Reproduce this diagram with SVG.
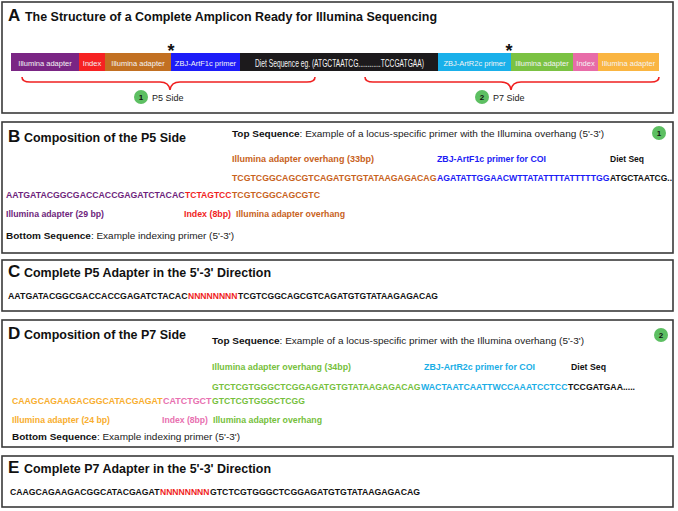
<svg xmlns="http://www.w3.org/2000/svg" width="678" height="511" viewBox="0 0 678 511">
<style>
.box{fill:#fff;stroke:#3a3a3a;stroke-width:1.6}
.t{font-family:"Liberation Sans",Arial,sans-serif}
.big{font-family:"Liberation Sans",Arial,sans-serif;font-weight:bold;font-size:17px;fill:#111}
.ttl{font-family:"Liberation Sans",Arial,sans-serif;font-weight:bold;font-size:12.5px;fill:#111}
.seg{font-family:"Liberation Sans",Arial,sans-serif;font-size:7.5px;fill:#f4f4f4;text-anchor:middle}
.sq{font-family:"Liberation Sans",Arial,sans-serif;font-weight:bold;font-size:9px}
.lb{font-family:"Liberation Sans",Arial,sans-serif;font-weight:bold;font-size:8.5px}
.nt{font-family:"Liberation Sans",Arial,sans-serif;font-size:9px;fill:#222}
.brace{fill:none;stroke:#f02020;stroke-width:1.6}
.cir{fill:#5dbf62}
.cn{font-family:"Liberation Sans",Arial,sans-serif;font-weight:bold;font-size:8px;fill:#111;text-anchor:middle}
.pu{fill:#6e1f7c}.rd{fill:#f01e1e}.or{fill:#c8621c}.bl{fill:#1c1cf5}.bk{fill:#111}
.cy{fill:#1aaee6}.gr{fill:#76bf3c}.pk{fill:#e870b0}.yo{fill:#f8ae2e}
</style>

<g id="panelA">
<rect class="box" x="2" y="2" width="671" height="111"/>
<text class="big" x="8" y="21">A</text>
<text class="ttl" x="25" y="21" textLength="412" lengthAdjust="spacingAndGlyphs">The Structure of a Complete Amplicon Ready for Illumina Sequencing</text>
</g>

<g id="amplicon-bar">
<rect x="11" y="53" width="68" height="18" fill="#7a2584"/>
<rect x="79" y="53" width="26" height="18" fill="#f62222"/>
<rect x="105" y="53" width="66" height="18" fill="#c27022"/>
<rect x="171" y="53" width="69" height="18" fill="#1d1cf8"/>
<rect x="240" y="53" width="198" height="18" fill="#1c1a1c"/>
<rect x="438" y="53" width="73" height="18" fill="#1ab0ea"/>
<rect x="511" y="53" width="62" height="18" fill="#7bc243"/>
<rect x="573" y="53" width="25" height="18" fill="#e86ca8"/>
<rect x="598" y="53" width="61" height="18" fill="#fab541"/>
<text class="seg" x="45" y="66">Illumina adapter</text>
<text class="seg" x="92" y="66">Index</text>
<text class="seg" x="138" y="66">Illumina adapter</text>
<text class="seg" x="205.5" y="66">ZBJ-ArtF1c primer</text>
<text class="t" x="255" y="66.5" font-size="10.5" fill="#f4f4f4" textLength="169" lengthAdjust="spacingAndGlyphs">Diet Sequence eg. (ATGCTAATCG............TCCGATGAA)</text>
<text class="seg" x="474.5" y="66">ZBJ-ArtR2c primer</text>
<text class="seg" x="542" y="66">Illumina adapter</text>
<text class="seg" x="585.5" y="66">Index</text>
<text class="seg" x="628.5" y="66">Illumina adapter</text>
<text class="t" x="171" y="57" font-size="18" font-weight="bold" fill="#111" text-anchor="middle">*</text>
<text class="t" x="509" y="57" font-size="18" font-weight="bold" fill="#111" text-anchor="middle">*</text>
</g>

<g id="connectors">
<path class="brace" d="M22,77 Q22,82 30,82 L160,82 Q169,82 170,90 Q171,82 180,82 L307,82 Q315,82 315,77"/>
<path class="brace" d="M365,77 Q365,82 373,82 L501,82 Q510,82 511,90 Q512,82 521,82 L651,82 Q659,82 659,77"/>
</g>

<g id="p5-side-label">
<circle class="cir" cx="141" cy="97" r="7"/>
<text class="cn" x="141" y="100">1</text>
<text class="nt" x="152" y="100.5">P5 Side</text>
</g>
<g id="p7-side-label">
<circle class="cir" cx="482" cy="97" r="7"/>
<text class="cn" x="482" y="100">2</text>
<text class="nt" x="493" y="100.5">P7 Side</text>
</g>

<g id="panelB">
<rect class="box" x="2" y="122" width="671" height="131"/>
<text class="big" x="8" y="142">B</text>
<text class="ttl" x="24" y="142" textLength="162" lengthAdjust="spacingAndGlyphs">Composition of the P5 Side</text>
<text class="nt" x="232" y="137" textLength="372" lengthAdjust="spacingAndGlyphs"><tspan font-weight="bold" fill="#111">Top Sequence</tspan>: Example of a locus-specific primer with the Illumina overhang (5'-3')</text>
<circle class="cir" cx="659" cy="133" r="7"/>
<text class="cn" x="659" y="136">1</text>
<text class="lb or" x="232" y="162" textLength="142" lengthAdjust="spacingAndGlyphs">Illumina adapter overhang  (33bp)</text>
<text class="lb bl" x="437" y="162" textLength="109" lengthAdjust="spacingAndGlyphs">ZBJ-ArtF1c primer for COI</text>
<text class="lb bk" x="610" y="162" textLength="34" lengthAdjust="spacingAndGlyphs">Diet Seq</text>
<text class="sq or" x="232" y="181" textLength="204.5" lengthAdjust="spacingAndGlyphs">TCGTCGGCAGCGTCAGATGTGTATAAGAGACAG</text>
<text class="sq bl" x="437" y="181" textLength="172.5" lengthAdjust="spacingAndGlyphs">AGATATTGGAACWTTATATTTTATTTTTGG</text>
<text class="sq bk" x="610" y="181" textLength="62" lengthAdjust="spacingAndGlyphs">ATGCTAATCG..</text>
<text class="sq pu" x="6" y="198" textLength="178.5" lengthAdjust="spacingAndGlyphs">AATGATACGGCGACCACCGAGATCTACAC</text>
<text class="sq rd" x="185" y="198" textLength="46.5" lengthAdjust="spacingAndGlyphs">TCTAGTCC</text>
<text class="sq or" x="232" y="198" textLength="88" lengthAdjust="spacingAndGlyphs">TCGTCGGCAGCGTC</text>
<text class="lb pu" x="6" y="217" textLength="98" lengthAdjust="spacingAndGlyphs">Illumina adapter (29 bp)</text>
<text class="lb rd" x="184" y="217" textLength="47" lengthAdjust="spacingAndGlyphs">Index (8bp)</text>
<text class="lb or" x="236" y="217" textLength="109" lengthAdjust="spacingAndGlyphs">Illumina adapter overhang</text>
<text class="nt" x="6" y="239" textLength="228" lengthAdjust="spacingAndGlyphs"><tspan font-weight="bold" fill="#111">Bottom Sequence</tspan>: Example indexing primer (5'-3')</text>
</g>

<g id="panelC">
<rect class="box" x="2" y="260" width="671" height="51"/>
<text class="big" x="8" y="277">C</text>
<text class="ttl" x="24" y="277" textLength="247" lengthAdjust="spacingAndGlyphs">Complete P5 Adapter in the 5'-3' Direction</text>
<text class="sq bk" x="8" y="299" textLength="179.5" lengthAdjust="spacingAndGlyphs">AATGATACGGCGACCACCGAGATCTACAC</text>
<text class="sq rd" x="188" y="299" textLength="49.5" lengthAdjust="spacingAndGlyphs">NNNNNNNN</text>
<text class="sq bk" x="238" y="299" textLength="200" lengthAdjust="spacingAndGlyphs">TCGTCGGCAGCGTCAGATGTGTATAAGAGACAG</text>
</g>

<g id="panelD">
<rect class="box" x="2" y="320" width="671" height="127"/>
<text class="big" x="8" y="339">D</text>
<text class="ttl" x="24" y="339" textLength="162" lengthAdjust="spacingAndGlyphs">Composition of the P7 Side</text>
<text class="nt" x="212" y="344" textLength="372" lengthAdjust="spacingAndGlyphs"><tspan font-weight="bold" fill="#111">Top Sequence</tspan>: Example of a locus-specific primer with the Illumina overhang (5'-3')</text>
<circle class="cir" cx="661" cy="335" r="7"/>
<text class="cn" x="661" y="338">2</text>
<text class="lb gr" x="212" y="370" textLength="139" lengthAdjust="spacingAndGlyphs">Illumina adapter overhang  (34bp)</text>
<text class="lb cy" x="424" y="370" textLength="111" lengthAdjust="spacingAndGlyphs">ZBJ-ArtR2c primer for COI</text>
<text class="lb bk" x="571" y="370" textLength="35" lengthAdjust="spacingAndGlyphs">Diet Seq</text>
<text class="sq gr" x="212" y="390" textLength="208.5" lengthAdjust="spacingAndGlyphs">GTCTCGTGGGCTCGGAGATGTGTATAAGAGACAG</text>
<text class="sq cy" x="421" y="390" textLength="146.5" lengthAdjust="spacingAndGlyphs">WACTAATCAATTWCCAAATCCTCC</text>
<text class="sq bk" x="568" y="390" textLength="67" lengthAdjust="spacingAndGlyphs">TCCGATGAA.....</text>
<text class="sq yo" x="12" y="404" textLength="150.5" lengthAdjust="spacingAndGlyphs">CAAGCAGAAGACGGCATACGAGAT</text>
<text class="sq pk" x="163" y="404" textLength="48.5" lengthAdjust="spacingAndGlyphs">CATCTGCT</text>
<text class="sq gr" x="212" y="404" textLength="93" lengthAdjust="spacingAndGlyphs">GTCTCGTGGGCTCGG</text>
<text class="lb yo" x="12" y="423" textLength="98" lengthAdjust="spacingAndGlyphs">Illumina adapter (24 bp)</text>
<text class="lb pk" x="162" y="423" textLength="46" lengthAdjust="spacingAndGlyphs">Index (8bp)</text>
<text class="lb gr" x="213" y="423" textLength="109" lengthAdjust="spacingAndGlyphs">Illumina adapter overhang</text>
<text class="nt" x="12" y="440" textLength="228" lengthAdjust="spacingAndGlyphs"><tspan font-weight="bold" fill="#111">Bottom Sequence</tspan>: Example indexing primer (5'-3')</text>
</g>

<g id="panelE">
<rect class="box" x="2" y="456" width="671" height="51"/>
<text class="big" x="8" y="473">E</text>
<text class="ttl" x="24" y="473" textLength="247" lengthAdjust="spacingAndGlyphs">Complete P7 Adapter in the 5'-3' Direction</text>
<text class="sq bk" x="10" y="495" textLength="149.5" lengthAdjust="spacingAndGlyphs">CAAGCAGAAGACGGCATACGAGAT</text>
<text class="sq rd" x="160" y="495" textLength="49.5" lengthAdjust="spacingAndGlyphs">NNNNNNNN</text>
<text class="sq bk" x="210" y="495" textLength="210" lengthAdjust="spacingAndGlyphs">GTCTCGTGGGCTCGGAGATGTGTATAAGAGACAG</text>
</g>
</svg>
